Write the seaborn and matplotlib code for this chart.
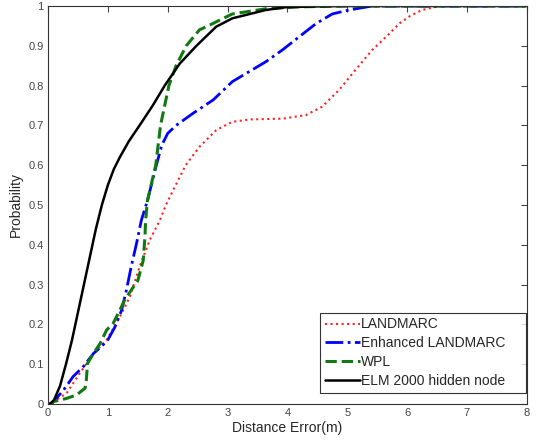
import matplotlib
matplotlib.use("Agg")
import matplotlib.pyplot as plt
import pandas as pd
import seaborn as sns

# (distance error in m, cumulative probability)
landmarc_x = [0, 0.05, 0.09, 0.31, 0.53, 0.76, 0.98, 1.2, 1.37, 1.53, 1.7, 1.87, 1.97, 2.1, 2.3, 2.53, 2.81,
              3.08, 3.37, 3.92, 4.31, 4.58, 4.87, 5.14, 5.42, 5.7, 5.87, 6.05, 6.25, 6.55, 8]
landmarc_y = [0, 0, 0.006, 0.027, 0.077, 0.127, 0.161, 0.219, 0.27, 0.345, 0.412, 0.462, 0.50, 0.54, 0.60, 0.646,
              0.688, 0.709, 0.715, 0.717, 0.726, 0.747, 0.79, 0.84, 0.89, 0.93, 0.956, 0.975, 0.99, 1.0, 1.0]

enh_x = [0, 0.05, 0.09, 0.26, 0.42, 0.59, 0.76, 0.89, 1.0, 1.12, 1.23, 1.31, 1.39, 1.48, 1.56, 1.66, 1.81, 1.9,
         2.0, 2.14, 2.42, 2.76, 3.08, 3.64, 3.92, 4.2, 4.48, 4.75, 5.03, 5.42, 8]
enh_y = [0, 0, 0.006, 0.035, 0.069, 0.094, 0.127, 0.144, 0.161, 0.194, 0.236, 0.286, 0.345, 0.404, 0.462, 0.51,
         0.60, 0.65, 0.68, 0.70, 0.73, 0.764, 0.81, 0.86, 0.89, 0.923, 0.956, 0.98, 0.99, 1.0, 1.0]

wpl_x = [0, 0.05, 0.09, 0.31, 0.48, 0.62, 0.64, 0.66, 0.76, 0.87, 0.98, 1.09, 1.2, 1.28, 1.39, 1.5, 1.59, 1.62,
         1.63, 1.66, 1.8, 1.88, 2.02, 2.14, 2.31, 2.53, 2.7, 3.08, 3.64, 4.2, 5.0, 8]
wpl_y = [0, 0, 0.006, 0.014, 0.023, 0.04, 0.06, 0.102, 0.127, 0.152, 0.186, 0.203, 0.236, 0.261, 0.286, 0.31,
         0.36, 0.42, 0.46, 0.51, 0.60, 0.70, 0.80, 0.85, 0.90, 0.94, 0.952, 0.98, 0.993, 0.998, 1.0, 1.0]

elm_x = [0, 0.03, 0.1, 0.2, 0.3, 0.4, 0.5, 0.6, 0.7, 0.8, 0.9, 1.0, 1.1, 1.2, 1.35, 1.53, 1.75, 1.95, 2.2,
         2.48, 2.81, 3.08, 3.64, 3.98, 4.5, 5.0, 8]
elm_y = [0, 0, 0.01, 0.045, 0.10, 0.16, 0.23, 0.30, 0.37, 0.44, 0.50, 0.55, 0.59, 0.62, 0.66, 0.70, 0.75, 0.80,
         0.855, 0.90, 0.948, 0.969, 0.99, 0.997, 0.999, 1.0, 1.0]

labels = ["LANDMARC", "Enhanced LANDMARC", "WPL", "ELM 2000 hidden node"]
colors = ["#ff2020", "#0000ff", "#107a10", "#000000"]
styles = [":", "-.", "--", "-"]
widths = [1.5, 2.0, 2.2, 1.8]

if __name__ == "__main__":
    sns.set_style("white")
    plt.rcParams["font.family"] = ["Liberation Sans", "DejaVu Sans"]

    series = [(landmarc_x, landmarc_y), (enh_x, enh_y), (wpl_x, wpl_y), (elm_x, elm_y)]

    fig = plt.figure(figsize=(5.37, 4.41), dpi=100)
    ax = fig.add_axes([0.0894, 0.0839, 0.8916, 0.9025])

    for (xs, ys), lab, col, ls, lw in zip(series, labels, colors, styles, widths):
        df = pd.DataFrame({"x": xs, "y": ys})
        sns.lineplot(data=df, x="x", y="y", ax=ax, color=col, linestyle=ls,
                     linewidth=lw, label=lab, sort=False, estimator=None)

    # MATLAB-looking axes
    ax.set_xlim(0, 8)
    ax.set_ylim(0, 1)
    ax.set_xticks(range(0, 9))
    ax.set_yticks([i / 10 for i in range(11)])
    ax.set_yticklabels(["0"] + [f"{i / 10:.1f}" for i in range(1, 10)] + ["1"])
    ax.tick_params(direction="in", top=True, right=True, length=4, width=0.8,
                   labelsize=8, labelcolor="#444444", color="#444444", pad=3)
    for sp in ax.spines.values():
        sp.set_color("#333333")
        sp.set_linewidth(0.8)

    ax.set_xlabel("Distance Error(m)", fontsize=10, labelpad=2)
    ax.set_ylabel("Probability", fontsize=10, labelpad=4)

    # legend box is wider than its text, like MATLAB's
    leg = ax.legend(loc="lower left", bbox_to_anchor=(0.568, 0.028, 0.43, 0.2),
                    mode="expand", borderaxespad=0, fontsize=10, fancybox=False,
                    frameon=True, handlelength=2.5, handletextpad=0.1,
                    labelspacing=0.35, borderpad=0.35)
    leg.get_frame().set_edgecolor("black")
    leg.get_frame().set_linewidth(0.8)

    fig.savefig("out.png", dpi=100)
